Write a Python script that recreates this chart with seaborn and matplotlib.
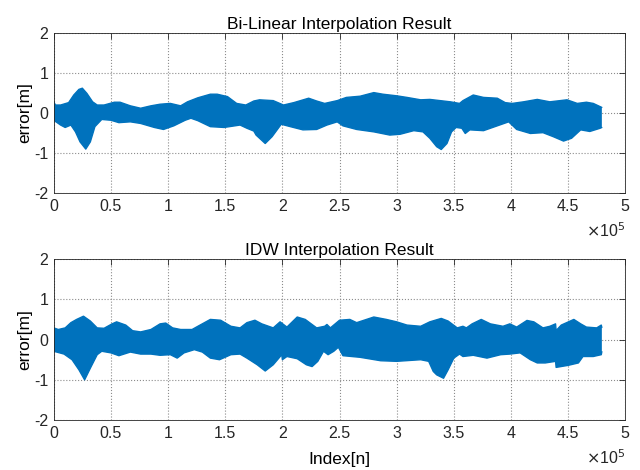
import numpy as np
import pandas as pd
import matplotlib
matplotlib.use("Agg")
import matplotlib.pyplot as plt
import seaborn as sns

# Envelope (upper / lower edge) of the dense error signal.
# Index in units of 1e5, error in metres.

# --- Bi-Linear ---
bl_up_x = [0.0, 0.015, 0.06, 0.13, 0.175, 0.22, 0.25, 0.29, 0.34, 0.38, 0.44, 0.53, 0.58,
           0.67, 0.76, 0.85, 0.93, 1.02, 1.11, 1.17, 1.26, 1.37, 1.43, 1.52, 1.60, 1.68,
           1.75, 1.80, 1.92, 2.01, 2.10, 2.23, 2.30, 2.37, 2.48, 2.56, 2.68, 2.80, 2.88,
           3.00, 3.09, 3.21, 3.29, 3.47, 3.55, 3.58, 3.67, 3.76, 3.88, 3.95, 4.01, 4.11,
           4.23, 4.34, 4.49, 4.58, 4.66, 4.72, 4.78, 4.795]
bl_up_y = [0.28, 0.20, 0.20, 0.26, 0.45, 0.59, 0.62, 0.49, 0.28, 0.20, 0.20, 0.27, 0.27,
           0.18, 0.12, 0.18, 0.22, 0.24, 0.18, 0.28, 0.38, 0.47, 0.47, 0.41, 0.24, 0.20,
           0.30, 0.33, 0.31, 0.20, 0.26, 0.37, 0.30, 0.24, 0.31, 0.39, 0.42, 0.51, 0.47,
           0.43, 0.39, 0.33, 0.34, 0.28, 0.24, 0.31, 0.45, 0.39, 0.37, 0.26, 0.24, 0.28,
           0.34, 0.28, 0.33, 0.24, 0.27, 0.24, 0.16, 0.14]
bl_lo_x = [0.0, 0.06, 0.10, 0.15, 0.19, 0.23, 0.28, 0.32, 0.36, 0.42, 0.50, 0.57, 0.67,
           0.76, 0.88, 0.96, 1.05, 1.15, 1.20, 1.26, 1.37, 1.49, 1.63, 1.69, 1.75, 1.77,
           1.85, 1.91, 1.99, 2.07, 2.18, 2.30, 2.39, 2.48, 2.53, 2.65, 2.80, 2.94, 3.03,
           3.15, 3.23, 3.29, 3.35, 3.39, 3.44, 3.48, 3.52, 3.57, 3.60, 3.64, 3.76, 3.88,
           3.98, 4.05, 4.17, 4.28, 4.37, 4.46, 4.53, 4.61, 4.69, 4.78, 4.795]
bl_lo_y = [-0.18, -0.30, -0.36, -0.30, -0.47, -0.72, -0.90, -0.72, -0.34, -0.16, -0.18,
           -0.24, -0.22, -0.26, -0.36, -0.41, -0.32, -0.18, -0.13, -0.19, -0.34, -0.36,
           -0.30, -0.38, -0.45, -0.55, -0.76, -0.59, -0.28, -0.34, -0.42, -0.41, -0.30,
           -0.22, -0.32, -0.41, -0.47, -0.55, -0.53, -0.44, -0.47, -0.63, -0.84, -0.91,
           -0.76, -0.47, -0.36, -0.38, -0.51, -0.42, -0.44, -0.32, -0.22, -0.41, -0.51,
           -0.49, -0.59, -0.70, -0.63, -0.42, -0.46, -0.38, -0.36]

# --- IDW ---
idw_up_x = [0.0, 0.04, 0.10, 0.15, 0.20, 0.26, 0.32, 0.38, 0.44, 0.51, 0.55, 0.63, 0.69,
            0.76, 0.85, 0.93, 0.98, 1.04, 1.11, 1.21, 1.28, 1.37, 1.46, 1.55, 1.63, 1.69,
            1.76, 1.82, 1.92, 1.98, 2.01, 2.04, 2.13, 2.20, 2.30, 2.37, 2.39, 2.42, 2.50,
            2.59, 2.65, 2.80, 2.91, 3.00, 3.09, 3.21, 3.29, 3.39, 3.45, 3.53, 3.58, 3.61,
            3.66, 3.74, 3.82, 3.93, 3.99, 4.05, 4.14, 4.20, 4.28, 4.34, 4.390, 4.395,
            4.44, 4.55, 4.61, 4.66, 4.75, 4.79, 4.795]
idw_up_y = [0.29, 0.25, 0.29, 0.42, 0.50, 0.58, 0.46, 0.29, 0.28, 0.39, 0.44, 0.36, 0.22,
            0.19, 0.25, 0.39, 0.41, 0.29, 0.25, 0.25, 0.36, 0.50, 0.48, 0.33, 0.29, 0.42,
            0.48, 0.39, 0.29, 0.44, 0.375, 0.31, 0.56, 0.50, 0.29, 0.33, 0.375, 0.29, 0.48,
            0.50, 0.42, 0.56, 0.50, 0.44, 0.36, 0.33, 0.44, 0.525, 0.46, 0.29, 0.33, 0.29,
            0.39, 0.50, 0.39, 0.33, 0.39, 0.31, 0.475, 0.44, 0.29, 0.33, 0.39, 0.225,
            0.36, 0.50, 0.39, 0.31, 0.29, 0.36, 0.30]
idw_lo_x = [0.0, 0.09, 0.16, 0.22, 0.27, 0.32, 0.38, 0.42, 0.50, 0.57, 0.67, 0.76, 0.85,
            0.93, 1.02, 1.08, 1.14, 1.23, 1.30, 1.37, 1.45, 1.55, 1.63, 1.69, 1.78, 1.85,
            1.92, 1.995, 2.00, 2.04, 2.13, 2.21, 2.26, 2.31, 2.36, 2.40, 2.45, 2.49, 2.53,
            2.68, 2.86, 3.00, 3.21, 3.28, 3.32, 3.35, 3.41, 3.45, 3.50, 3.55, 3.58, 3.67,
            3.79, 3.91, 3.99, 4.08, 4.17, 4.23, 4.30, 4.390, 4.395, 4.50, 4.59, 4.63,
            4.72, 4.79, 4.795]
idw_lo_y = [-0.29, -0.36, -0.50, -0.75, -1.00, -0.71, -0.375, -0.29, -0.33, -0.40, -0.31,
            -0.36, -0.36, -0.39, -0.375, -0.46, -0.33, -0.25, -0.31, -0.46, -0.50, -0.375,
            -0.36, -0.46, -0.625, -0.78, -0.625, -0.375, -0.50, -0.42, -0.475, -0.625,
            -0.67, -0.54, -0.29, -0.375, -0.29, -0.19, -0.40, -0.44, -0.525, -0.54, -0.50,
            -0.54, -0.79, -0.875, -0.96, -0.75, -0.46, -0.36, -0.42, -0.39, -0.46, -0.375,
            -0.36, -0.33, -0.50, -0.58, -0.58, -0.54, -0.69, -0.64, -0.58, -0.42, -0.42,
            -0.375, -0.30]

titles = ["Bi-Linear Interpolation Result", "IDW Interpolation Result"]
xtick_labels = ["0", "0.5", "1", "1.5", "2", "2.5", "3", "3.5", "4", "4.5", "5"]
ytick_labels = ["-2", "-1", "0", "1", "2"]

BLUE = "#0072BD"
DARK = "#262626"

sns.set_style("white")
plt.rcParams["font.family"] = ["Liberation Sans", "DejaVu Sans"]
plt.rcParams["axes.unicode_minus"] = False

fig = plt.figure(figsize=(6.4, 4.7), dpi=100)
ax_top = fig.add_axes([0.084, 0.589, 0.893, 0.341])
ax_bot = fig.add_axes([0.084, 0.106, 0.893, 0.343])

series = [(bl_up_x, bl_up_y, bl_lo_x, bl_lo_y), (idw_up_x, idw_up_y, idw_lo_x, idw_lo_y)]

for ax, title, (ux, uy, lx, ly) in zip([ax_top, ax_bot], titles, series):
    ux = np.array(ux) * 1e5
    lx = np.array(lx) * 1e5
    # band = upper edge forward, lower edge backward
    poly_x = np.concatenate([ux, lx[::-1]])
    poly_y = np.concatenate([uy, ly[::-1]])
    ax.fill(poly_x, poly_y, color=BLUE, lw=0)
    up = pd.DataFrame({"x": ux, "y": uy})
    lo = pd.DataFrame({"x": lx, "y": ly})
    sns.lineplot(data=up, x="x", y="y", ax=ax, color=BLUE, lw=1.0, sort=False)
    sns.lineplot(data=lo, x="x", y="y", ax=ax, color=BLUE, lw=1.0, sort=False)

    ax.set_xlim(0, 5e5)
    ax.set_ylim(-2, 2)
    ax.set_xticks(np.arange(0, 5.01e5, 0.5e5))
    ax.set_xticklabels(xtick_labels)
    ax.set_yticks([-2, -1, 0, 1, 2])
    ax.set_yticklabels(ytick_labels)
    ax.set_title(title, fontsize=12.5, pad=3, color="black")
    ax.set_ylabel("error[m]", fontsize=12.5, labelpad=1, color="black")
    ax.set_xlabel("")
    ax.grid(True, linestyle=":", color="#8c8c8c", lw=0.8)
    ax.tick_params(direction="in", length=4, width=0.6, top=True, right=True,
                   labelsize=11.5, pad=4, colors=DARK)
    for sp in ax.spines.values():
        sp.set_color(DARK)
        sp.set_linewidth(0.6)
    ax.text(1.0, -0.235, r"$\times$10$^{5}$", transform=ax.transAxes, ha="right",
            va="center", fontsize=11.5, color=DARK)

ax_bot.set_xlabel("Index[n]", fontsize=12.5, labelpad=8, color="black")

fig.savefig("out.png", dpi=100)
